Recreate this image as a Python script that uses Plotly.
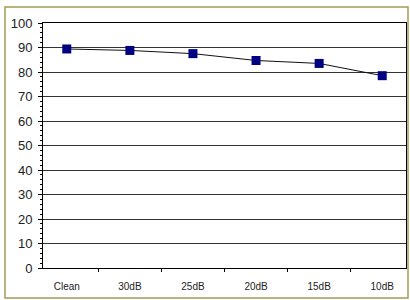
import plotly.graph_objects as go

categories = ["Clean", "30dB", "25dB", "20dB", "15dB", "10dB"]
values = [89.4, 88.8, 87.5, 84.7, 83.5, 78.5]
y_ticks = list(range(0, 101, 10))

fig = go.Figure()
fig.add_trace(go.Scatter(
    x=categories, y=values, mode="lines+markers",
    line=dict(color="#111111", width=1),
    marker=dict(symbol="square", size=9, color="#000080"),
    showlegend=False,
))

fig.update_layout(
    width=410, height=300,
    margin=dict(l=43, r=4, t=23, b=32),
    paper_bgcolor="white", plot_bgcolor="white",
    font=dict(family="Liberation Sans, Arial, sans-serif", color="#222222"),
    xaxis=dict(
        type="category", showline=True, linecolor="black", linewidth=1, mirror=True,
        ticks="outside", tickson="boundaries", ticklen=3, tickcolor="black",
        showgrid=False, tickfont=dict(size=10), ticklabelstandoff=9, fixedrange=True,
    ),
    yaxis=dict(
        range=[0, 100], tickvals=y_ticks, showline=True, linecolor="black", linewidth=1,
        mirror=True, ticks="outside", ticklen=4, tickcolor="black",
        showgrid=True, gridcolor="#333333", gridwidth=1,
        tickfont=dict(size=13), ticklabelstandoff=3,
        minor=dict(dtick=2, ticks="outside", ticklen=2, tickcolor="black", showgrid=False),
        zeroline=False, fixedrange=True,
    ),
    shapes=[dict(
        type="rect", xref="paper", yref="paper",
        x0=-0.1047, x1=1.0055, y0=-0.1224, y1=1.0653,
        line=dict(color="#a39c55", width=1.5), fillcolor="rgba(0,0,0,0)", layer="below",
    )],
)

fig.write_html("out.html", config={"displayModeBar": False},
               post_script="document.body.style.margin='0';")
